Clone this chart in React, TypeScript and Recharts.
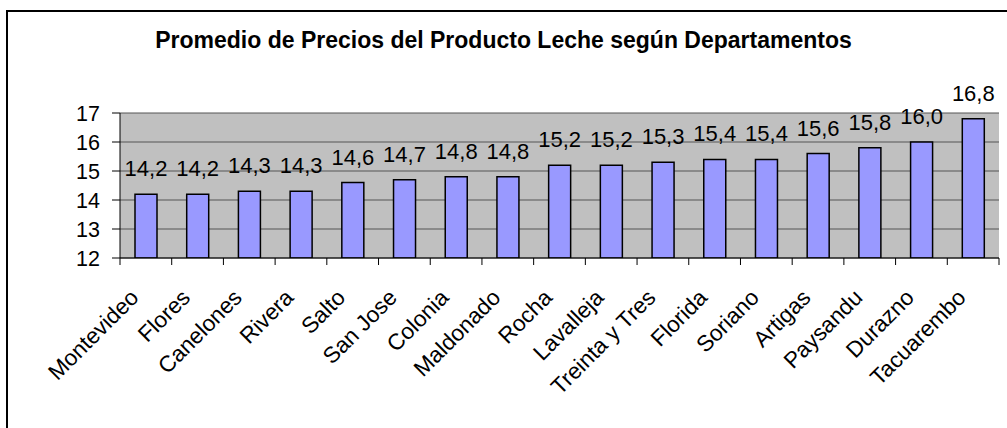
import { BarChart, Bar, XAxis, YAxis, CartesianGrid, LabelList } from "recharts";

const departments = [
  "Montevideo",
  "Flores",
  "Canelones",
  "Rivera",
  "Salto",
  "San Jose",
  "Colonia",
  "Maldonado",
  "Rocha",
  "Lavalleja",
  "Treinta y Tres",
  "Florida",
  "Soriano",
  "Artigas",
  "Paysandu",
  "Durazno",
  "Tacuarembo",
];

const prices = [
  14.2, 14.2, 14.3, 14.3, 14.6, 14.7, 14.8, 14.8, 15.2, 15.2, 15.3, 15.4, 15.4,
  15.6, 15.8, 16.0, 16.8,
];

const yTicks = [12, 13, 14, 15, 16, 17];

const chartTitle = "Promedio de Precios del Producto Leche según Departamentos";

const data = departments.map((name, i) => ({ name, value: prices[i] }));

const FONT = "'Liberation Sans', Arial, sans-serif";
const WIDTH = 1007;
const HEIGHT = 428;
const PLOT_LEFT = 120;
const PLOT_RIGHT_GAP = 8;
const BAND = (WIDTH - PLOT_LEFT - PLOT_RIGHT_GAP) / departments.length;

function CategoryTick(props: any) {
  const { x, y, payload, index } = props;
  const tx = x - 6;
  const ty = y + 41;
  return (
    <g>
      <line x1={x - BAND / 2} x2={x - BAND / 2} y1={y} y2={y + 7} stroke="#000" />
      {index === departments.length - 1 && (
        <line x1={x + BAND / 2} x2={x + BAND / 2} y1={y} y2={y + 7} stroke="#000" />
      )}
      <text
        x={tx}
        y={ty}
        textAnchor="end"
        transform={`rotate(-45, ${tx}, ${ty})`}
        fontFamily={FONT}
        fontSize={22.5}
        fill="#000"
      >
        {payload.value}
      </text>
    </g>
  );
}

export default function App() {
  return (
    <div
      style={{
        position: "absolute",
        left: 0,
        top: 0,
        width: WIDTH,
        height: HEIGHT,
        background: "#fff",
        overflow: "hidden",
      }}
    >
      <div
        style={{
          position: "absolute",
          left: 6,
          top: 10,
          width: WIDTH,
          height: HEIGHT,
          borderLeft: "2px solid #000",
          borderTop: "2px solid #000",
        }}
      />
      <div
        style={{
          position: "absolute",
          left: 0,
          top: 27,
          width: WIDTH,
          textAlign: "center",
          fontFamily: FONT,
          fontWeight: "bold",
          fontSize: 23,
          color: "#000",
          whiteSpace: "nowrap",
        }}
      >
        {chartTitle}
      </div>
      <div style={{ position: "absolute", left: 0, top: 0 }}>
        <BarChart
          width={WIDTH}
          height={HEIGHT}
          data={data}
          margin={{ top: 113, right: PLOT_RIGHT_GAP, bottom: 0, left: 0 }}
        >
          <CartesianGrid
            vertical={false}
            fill="#C0C0C0"
            stroke="#555"
            strokeWidth={1}
          />
          <XAxis
            dataKey="name"
            interval={0}
            height={170}
            tickSize={0}
            tickMargin={0}
            tickLine={false}
            axisLine={{ stroke: "#000" }}
            tick={<CategoryTick />}
          />
          <YAxis
            domain={[12, 17]}
            ticks={yTicks}
            interval={0}
            width={PLOT_LEFT}
            tickSize={8}
            tickMargin={12}
            axisLine={{ stroke: "#000" }}
            tickLine={{ stroke: "#000" }}
            tick={{ fontFamily: FONT, fontSize: 21.5, fill: "#000" }}
            allowDataOverflow
          />
          <YAxis
            yAxisId="right"
            orientation="right"
            width={0}
            tick={false}
            tickLine={false}
            axisLine={{ stroke: "#808080" }}
          />
          <Bar
            dataKey="value"
            fill="#9999FF"
            stroke="#000"
            strokeWidth={1.5}
            barSize={22}
            isAnimationActive={false}
          >
            <LabelList
              dataKey="value"
              position="top"
              offset={18}
              formatter={(v: any) => Number(v).toFixed(1).replace(".", ",")}
              style={{ fontFamily: FONT, fontSize: 22, fill: "#000" }}
            />
          </Bar>
        </BarChart>
      </div>
    </div>
  );
}
